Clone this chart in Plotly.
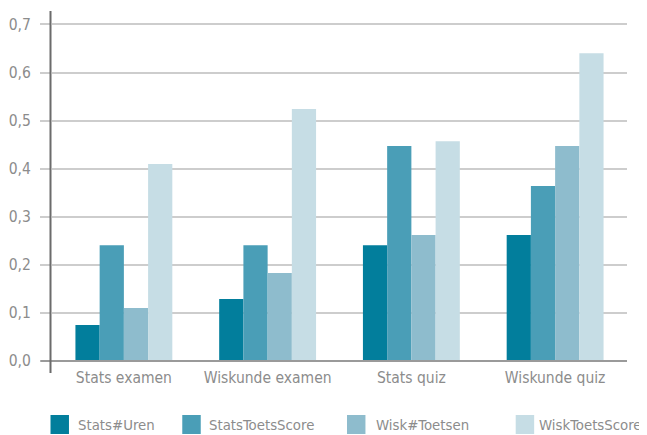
import plotly.graph_objects as go

categories = ["Stats examen", "Wiskunde examen", "Stats quiz", "Wiskunde quiz"]
series_names = ["Stats#Uren", "StatsToetsScore", "Wisk#Toetsen", "WiskToetsScore"]
stats_uren = [0.075, 0.129, 0.241, 0.262]
stats_toets = [0.241, 0.241, 0.447, 0.364]
wisk_toetsen = [0.110, 0.183, 0.262, 0.447]
wisk_toets = [0.410, 0.524, 0.457, 0.640]
colors = ["#027e9c", "#4a9eb7", "#8ebccd", "#c6dde5"]
y_ticks = [0.0, 0.1, 0.2, 0.3, 0.4, 0.5, 0.6, 0.7]

# page is shown with an 8px body margin
OFF = 8
W, H = 647 - OFF, 435 - OFF
L, R, T, B = 43.5, 19.5, 3, 74
PW, PH = W - L - R, H - T - B

def px(xpage):
    return (xpage - OFF - L) / PW

def py(ypage):
    return 1 - (ypage - OFF - T) / PH

AXIS_FS = 15.5
LEG_FS = 14.8
text_color = "#8c8c8c"
FAMILY = "DejaVu Sans Condensed, sans-serif"

def fnt(size):
    return dict(family=FAMILY, size=size, color=text_color)

fig = go.Figure()
for name, vals, c in zip(series_names, [stats_uren, stats_toets, wisk_toetsen, wisk_toets], colors):
    fig.add_trace(go.Bar(x=categories, y=vals, name=name, marker=dict(color=c, line=dict(width=0))))

shapes = [
    dict(type="line", xref="paper", yref="paper", x0=px(40), x1=1, y0=0, y1=0,
         line=dict(color="#9a9a9a", width=2)),
    dict(type="line", xref="paper", yref="paper", x0=px(50), x1=px(50), y0=py(373), y1=1,
         line=dict(color="#6b6b6b", width=2)),
]
annotations = []
sq_left = [50, 182, 347, 516]
txt_left = [76, 207, 374, 537]
for name, c, sx, tx in zip(series_names, colors, sq_left, txt_left):
    shapes.append(dict(type="rect", xref="paper", yref="paper", x0=px(sx), x1=px(sx + 18.5),
                       y0=py(434), y1=py(415), fillcolor=c, line=dict(width=0)))
    annotations.append(dict(text=name, xref="paper", yref="paper", x=px(tx), y=py(424.5),
                            xanchor="left", yanchor="middle", showarrow=False, font=fnt(LEG_FS)))

fig.update_layout(
    width=W, height=H,
    barmode="group", bargap=0.326, bargroupgap=0,
    separators=", ",
    paper_bgcolor="white", plot_bgcolor="white",
    margin=dict(l=L, r=R, t=T, b=B, pad=0, autoexpand=False),
    font=fnt(AXIS_FS),
    showlegend=False,
    shapes=shapes,
    annotations=annotations,
    xaxis=dict(range=[-0.5, 3.5], showgrid=False, showline=False, ticks="", zeroline=False,
               automargin=False, tickfont=fnt(AXIS_FS), ticklabelstandoff=5),
    yaxis=dict(range=[0, 0.728], tickvals=y_ticks, tickformat=".1f",
               showgrid=True, gridcolor="#cdcdcd", gridwidth=1.5,
               zeroline=False, showline=False, automargin=False,
               ticks="outside", ticklen=11, tickcolor="#cdcdcd", tickwidth=1.5,
               ticklabelstandoff=6, tickfont=fnt(AXIS_FS)),
)
fig.write_html("out.html")
